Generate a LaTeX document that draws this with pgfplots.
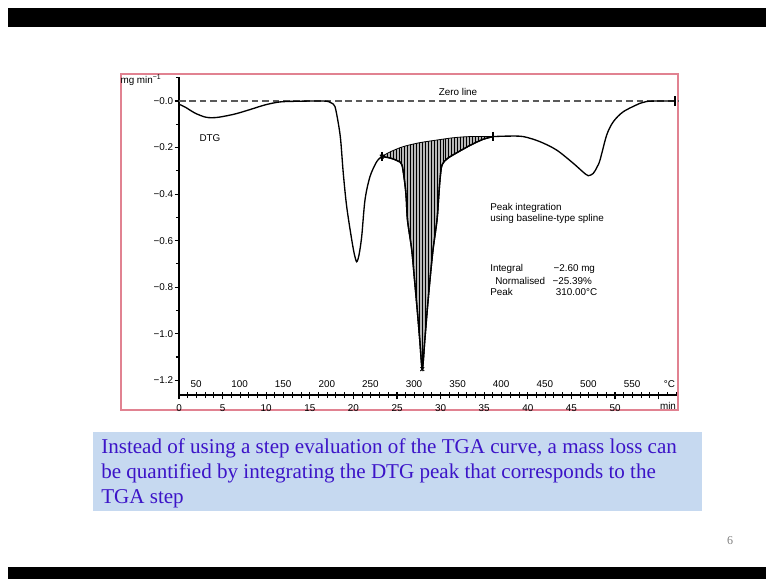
\documentclass[border=0pt]{standalone}
\usepackage{pgfplots}
\pgfplotsset{compat=1.18}
\usepackage{pgfplotstable}
\usepgfplotslibrary{fillbetween}
\usetikzlibrary{patterns.meta}
\usepackage{fontspec}
\setmainfont{Liberation Sans}
\newfontfamily\seriffont{Liberation Serif}

\definecolor{boxred}{RGB}{225,130,145}
\definecolor{notebg}{RGB}{198,217,240}
\definecolor{notetext}{RGB}{60,20,200}
\definecolor{zerogray}{RGB}{90,90,90}
\newcommand\cf{\fontsize{7.4}{8.5}\selectfont}

% DTG curve, time in min, rate in mg/min
\pgfplotstableread{
t v
0 -0.014
0.69 -0.026
1.83 -0.052
2.98 -0.069
3.78 -0.072
4.70 -0.069
6.42 -0.056
8.14 -0.037
9.86 -0.017
11.6 -0.004
13.9 -0.001
16.2 0.000
17.1 -0.002
17.5 -0.009
17.89 -0.0245
18.27 -0.096
18.54 -0.168
18.84 -0.311
19.23 -0.454
19.81 -0.597
20.13 -0.662
20.38 -0.691
20.64 -0.662
20.95 -0.583
21.33 -0.425
21.90 -0.325
22.67 -0.261
23.25 -0.239
}\dtgpre

\pgfplotstableread{
t v
23.25 -0.239
24.20 -0.245
25.11 -0.258
25.57 -0.275
25.92 -0.361
26.07 -0.425
26.20 -0.511
26.69 -0.640
27.01 -0.769
27.32 -0.898
27.61 -1.027
27.90 -1.152
28.19 -1.027
28.47 -0.898
28.78 -0.769
29.13 -0.640
29.59 -0.511
29.76 -0.425
29.93 -0.339
30.16 -0.275
30.73 -0.249
31.42 -0.232
33.37 -0.191
34.86 -0.165
36.04 -0.153
}\dtgmain

\pgfplotstableread{
t v
36.04 -0.153
37.73 -0.151
39.48 -0.153
41.40 -0.175
43.31 -0.211
45.22 -0.268
46.36 -0.306
46.94 -0.321
47.51 -0.311
47.94 -0.284
48.28 -0.254
49.05 -0.146
49.81 -0.089
50.96 -0.046
52.87 -0.010
53.64 -0.002
55.16 0.000
56.88 0.000
}\dtgpost

% baseline-type spline under the main peak
\pgfplotstableread{
t v
23.25 -0.239
24.20 -0.219
25.72 -0.196
27.64 -0.179
29.55 -0.168
31.46 -0.158
33.37 -0.153
36.04 -0.153
}\baseline

\begin{document}
\begin{tikzpicture}
% slide (1 unit = 1 px of the reference); page stays white
\begin{scope}[x=0.75pt,y=0.75pt]
\path (0,0) rectangle (766,579);
\fill[black] (8,552) rectangle (766,571);
\fill[black] (8,0) rectangle (766,12);
\draw[boxred, line width=0.8pt] (121,169) rectangle (678,505);
\end{scope}

\begin{axis}[
    at={(134.25pt,138pt)}, anchor=south west,
    scale only axis, width=375pt, height=238.5pt,
    xmin=0, xmax=57.34, ymin=-1.2634, ymax=0.103,
    axis x line*=bottom, axis y line*=left,
    axis line style={line width=1pt},
    tick align=outside,
    major tick length=3.2pt, minor tick length=2.4pt,
    tick style={black, line width=0.8pt},
    xtick={0,5,...,55},
    xticklabels={0,5,10,15,20,25,30,35,40,45,50,{}},
    minor x tick num=4,
    ytick={-1.2,-1.0,-0.8,-0.6,-0.4,-0.2,0},
    yticklabels={−1.2,−1.0,−0.8,−0.6,−0.4,−0.2,−0.0},
    minor ytick={-1.1,-0.9,-0.7,-0.5,-0.3,-0.1,0.1},
    /pgf/number format/assume math mode=true,
    xticklabel style={font=\cf, anchor=center, yshift=-6.3pt},
    yticklabel style={font=\cf, anchor=east, inner sep=0pt, xshift=-1pt},
    clip=false,
]
% zero line
\addplot[zerogray, line width=1pt, dash pattern=on 5pt off 2.8pt] coordinates {(0,0) (57.34,0)};

% hatched peak area
\addplot[black, line width=1pt, smooth, tension=0.5, name path=main] table {\dtgmain};
\addplot[black, line width=0.6pt, smooth, tension=0.5, name path=base] table {\baseline};
\addplot[fill=gray!55, draw=none] fill between[of=main and base];
\addplot[draw=none, pattern={Lines[angle=90, distance=2.2pt, line width=0.6pt]}, pattern color=black] fill between[of=main and base];
\addplot[black, line width=1pt, smooth, tension=0.5] table {\dtgmain};

% rest of the DTG curve
\addplot[black, line width=1pt, smooth, tension=0.5] table {\dtgpre};
\addplot[black, line width=1pt, smooth, tension=0.5] table {\dtgpost};

% integration limits and peak
\addplot[only marks, mark=|, mark size=3.5pt, mark options={line width=1.2pt}] coordinates {(23.25,-0.239) (36.04,-0.153) (56.88,0)};
\addplot[only marks, mark=x, mark size=2pt, mark options={line width=0.7pt}] coordinates {(23.25,-0.239) (27.90,-1.152)};
\end{axis}

% temperature scale, with the upper half of the minute ticks
\begin{axis}[
    at={(134.25pt,138pt)}, anchor=south west,
    scale only axis, width=375pt, height=238.5pt,
    xmin=0, xmax=57.34, ymin=-1.2634, ymax=0.103,
    axis x line*=bottom, hide y axis,
    axis line style={draw=none},
    tick align=inside,
    major tick length=0pt, minor tick length=2.4pt,
    tick style={black, line width=0.8pt},
    xtick={1.95,6.95,11.95,16.95,21.95,26.95,31.95,36.95,41.95,46.95,51.95,56.25},
    xticklabels={50,100,150,200,250,300,350,400,450,500,550,°C},
    minor xtick={0,1,...,57},
    xticklabel style={font=\cf, anchor=center, yshift=8.3pt},
]
\addplot[draw=none] coordinates {(0,0)};
\end{axis}

\begin{scope}[x=0.75pt,y=0.75pt]
% labels
\node[font=\cf, inner sep=0pt] at (141,499) {mg min\textsuperscript{−1}};
\node[font=\cf, inner sep=0pt] at (668,173.3) {min};
\node[font=\cf, inner sep=0pt] at (458,486.7) {Zero line};
\node[font=\cf, inner sep=0pt] at (210,441.3) {DTG};
\node[font=\cf, inner sep=0pt, anchor=west] at (490,371.3) {Peak integration};
\node[font=\cf, inner sep=0pt, anchor=west] at (490,359.7) {using baseline-type spline};
\node[font=\cf, inner sep=0pt, anchor=west] at (490,309.7) {Integral};
\node[font=\cf, inner sep=0pt, anchor=west] at (553.3,309.7) {−2.60 mg};
\node[font=\cf, inner sep=0pt, anchor=west] at (495,298.3) {Normalised};
\node[font=\cf, inner sep=0pt, anchor=west] at (552.3,298.3) {−25.39\%};
\node[font=\cf, inner sep=0pt, anchor=west] at (490,287.3) {Peak};
\node[font=\cf, inner sep=0pt, anchor=west] at (555.7,287.3) {310.00°C};

% note box
\fill[notebg] (93,68) rectangle (702,147);
\begin{scope}[every node/.style={anchor=base west, inner sep=0pt, text=notetext, font=\seriffont\fontsize{15.8}{18.8}\selectfont}]
\node at (101,126) {Instead of using a step evaluation of the TGA curve, a mass loss can};
\node at (101,101) {be quantified by integrating the DTG peak that corresponds to the};
\node at (101,76) {TGA step};
\end{scope}
\node[font=\seriffont\fontsize{9}{10}\selectfont, text=gray, inner sep=0pt] at (730,38) {6};
\end{scope}
\end{tikzpicture}
\end{document}
